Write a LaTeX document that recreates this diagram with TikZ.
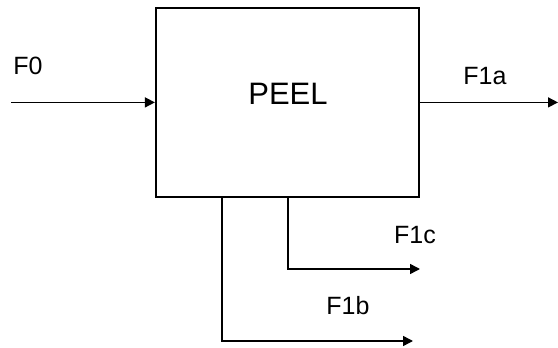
\documentclass[tikz,border=0pt]{standalone}
\usepackage{fontspec}
\setmainfont{Liberation Sans}
\usetikzlibrary{arrows.meta}
\begin{document}
\begin{tikzpicture}[x=1pt,y=-1pt,
  flow/.style={line width=1.5pt,-{Triangle[length=10pt,width=10pt]}},
  lbl/.style={font=\fontsize{25}{25}\selectfont,inner sep=0pt,anchor=center},
  boxstyle/.style={draw,line width=2pt,minimum width=263pt,minimum height=189pt,inner sep=0pt}]
\useasboundingbox[fill=white] (0,0) rectangle (558,348);
\node[boxstyle] (box) at (287.4,102.4) {};
\node[font=\fontsize{31}{31}\selectfont,inner sep=0pt] (peeltxt) at (288,94) {PEEL};
\coordinate (in) at (11,102.4);
\coordinate (out) at (558,102.4);
\coordinate (b1) at (222,196.9);
\coordinate (b1c) at (222,341);
\coordinate (b1e) at (413,341);
\coordinate (c1) at (288,196.9);
\coordinate (c1c) at (288,269);
\coordinate (c1e) at (420,269);
\draw[flow] (in) -- (box.west);
\draw[flow] (box.east) -- (out);
\draw[flow] (b1) -- (b1c) -- (b1e);
\draw[flow] (c1) -- (c1c) -- (c1e);
\node[lbl] (f0) at (28,66) {F0};
\node[lbl] (f1a) at (485,76) {F1a};
\node[lbl] (f1c) at (415,235) {F1c};
\node[lbl] (f1b) at (348,306) {F1b};
\end{tikzpicture}
\end{document}
